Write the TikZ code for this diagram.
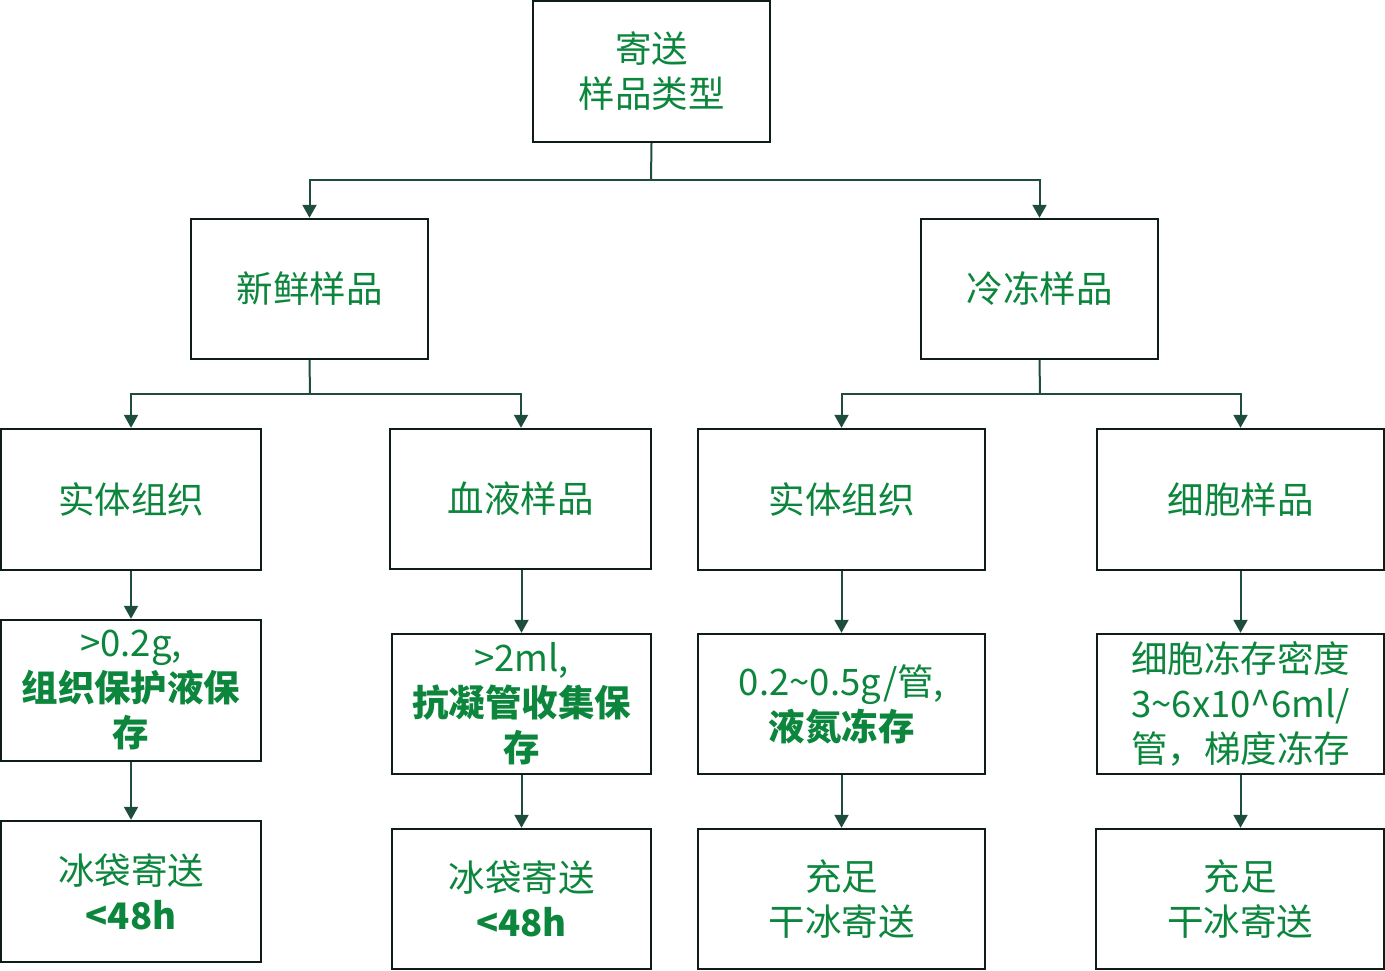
\documentclass[tikz,border=0pt]{standalone}
\usepackage{fontspec}
\setmainfont{Noto Sans CJK SC}
\usetikzlibrary{arrows.meta,positioning}
\definecolor{txtgreen}{RGB}{12,134,60}
\definecolor{boxline}{RGB}{14,30,22}
\definecolor{connline}{RGB}{30,77,60}
\tikzset{
  box/.style={draw=boxline,line width=2.4pt,fill=white,text=txtgreen,align=center,
    inner sep=0pt,font=\fontsize{36.5}{45}\selectfont},
  conn/.style={draw=connline,line width=2pt,-{Triangle[width=14pt,length=13pt]}},
  plain/.style={draw=connline,line width=2pt}
}
\begin{document}
\begin{tikzpicture}[x=1pt,y=-1pt]
\useasboundingbox (0,0) rectangle (1385,971);
% level 1
\node[box,minimum width=237pt,minimum height=141pt] (top) at (651.5,71.5) {寄送\\样品类型};
% level 2
\node[box,minimum width=237pt,minimum height=140pt] (fresh) at (309.5,289) {新鲜样品};
\node[box,minimum width=237pt,minimum height=140pt] (frozen) at (1039.5,289) {冷冻样品};
% level 3
\node[box,minimum width=260pt,minimum height=141pt] (a3) at (131,499.5) {实体组织};
\node[box,minimum width=261pt,minimum height=140pt] (b3) at (520.5,499) {血液样品};
\node[box,minimum width=287pt,minimum height=141pt] (c3) at (841.5,499.5) {实体组织};
\node[box,minimum width=287pt,minimum height=141pt] (d3) at (1240.5,499.5) {细胞样品};
% level 4
\node[box,minimum width=260pt,minimum height=141pt] (a4) at (131,690.5) {>0.2g,\\\textbf{组织保护液保}\\\textbf{存}};
\node[box,minimum width=259pt,minimum height=140pt] (b4) at (521.5,704) {>2ml,\\\textbf{抗凝管收集保}\\\textbf{存}};
\node[box,minimum width=287pt,minimum height=140pt] (c4) at (841.5,704) {0.2\textasciitilde 0.5g/管,\\\textbf{液氮冻存}};
\node[box,minimum width=287pt,minimum height=140pt] (d4) at (1240.5,704) {细胞冻存密度\\3\textasciitilde 6x10\textasciicircum 6ml/\\管，梯度冻存};
% level 5
\node[box,minimum width=260pt,minimum height=141pt] (a5) at (131,891.5) {冰袋寄送\\\textbf{<48h}};
\node[box,minimum width=259pt,minimum height=140pt] (b5) at (521.5,899) {冰袋寄送\\\textbf{<48h}};
\node[box,minimum width=287pt,minimum height=140pt] (c5) at (841.5,899) {充足\\干冰寄送};
\node[box,minimum width=288pt,minimum height=140pt] (d5) at (1240,899) {充足\\干冰寄送};
% junctions
\coordinate (j1) at (651,180);
\coordinate (j2) at (310,394);
\coordinate (j3) at (1040,394);
% connectors
\draw[plain] (top.south) -- (j1);
\draw[conn] (j1) -| (fresh.north);
\draw[conn] (j1) -| (frozen.north);
\draw[plain] (fresh.south) -- (j2);
\draw[conn] (j2) -| (a3.north);
\draw[conn] (j2) -| ([xshift=0.5pt]b3.north);
\draw[plain] (frozen.south) -- (j3);
\draw[conn] (j3) -| (c3.north);
\draw[conn] (j3) -| (d3.north);
\draw[conn] (a3.south) -- (a4.north);
\draw[conn] (b4.north |- b3.south) -- (b4.north);
\draw[conn] (c3.south) -- (c4.north);
\draw[conn] (d3.south) -- (d4.north);
\draw[conn] (a4.south) -- (a5.north);
\draw[conn] (b4.south) -- (b5.north);
\draw[conn] (c4.south) -- (c5.north);
\draw[conn] (d4.south) -- (d4.south |- d5.north);
\end{tikzpicture}
\end{document}
